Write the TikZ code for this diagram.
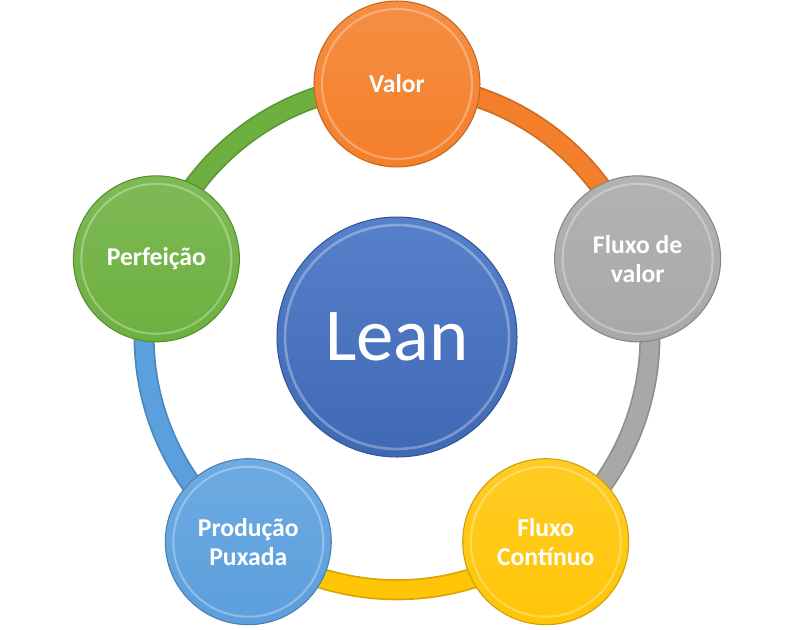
\documentclass[tikz,border=0pt]{standalone}
\usepackage{fontspec}
\setmainfont{Carlito}
\usetikzlibrary{backgrounds}

\definecolor{leanBlue}{HTML}{4472C4}
\definecolor{valorOrange}{HTML}{F47F2A}
\definecolor{fluxoGray}{HTML}{A8A8A8}
\definecolor{continuoYellow}{HTML}{FFC506}
\definecolor{puxadaBlue}{HTML}{5B9FDD}
\definecolor{perfeicaoGreen}{HTML}{6DB03F}

\tikzset{
	pillar/.style={circle, minimum size=3.32cm, inner sep=0pt, align=center, text=white,
		font=\fontsize{14.6}{16.6}\selectfont\bfseries, line width=0.6pt,
		draw=#1!80!black, top color=#1!88!white, bottom color=#1,
		path picture={\draw[white,opacity=0.3,line width=1.2pt] (path picture bounding box.center) circle (1.50cm);}},
	ring/.style={draw=#1!85!black, line width=12pt, postaction={draw=#1, line width=10pt}},
}

\begin{document}
\begin{tikzpicture}[x=0.02cm,y=0.02cm]
		\useasboundingbox (-397,-292) rectangle (396,337);
		
		\node[circle, minimum size=4.8cm, inner sep=0pt, text=white, font=\fontsize{42.5}{50}\selectfont,
			draw=leanBlue!75!black, line width=0.6pt, top color=leanBlue!90!white, bottom color=leanBlue!92!black,
			path picture={\draw[white,opacity=0.3,line width=1.5pt] (path picture bounding box.center) circle (2.24cm);}]
			(lean) at (0,0) {Lean};
		
		\node[pillar=valorOrange] (valor) at (90:253) {Valor};
		\node[pillar=fluxoGray] (fluxo) at (18:253) {Fluxo de\\valor};
		\node[pillar=continuoYellow] (continuo) at (-54:253) {Fluxo\\Contínuo};
		\node[pillar=puxadaBlue] (puxada) at (-126:253) {Produção\\Puxada};
		\node[pillar=perfeicaoGreen] (perfeicao) at (162:253) {Perfeição};
		
		\begin{scope}[on background layer]
			\draw[ring=valorOrange] (valor.center) to[bend left=36,looseness=0.94] (fluxo.center);
			\draw[ring=fluxoGray] (fluxo.center) to[bend left=36,looseness=0.94] (continuo.center);
			\draw[ring=continuoYellow] (continuo.center) to[bend left=36,looseness=0.94] (puxada.center);
			\draw[ring=puxadaBlue] (puxada.center) to[bend left=36,looseness=0.94] (perfeicao.center);
			\draw[ring=perfeicaoGreen] (perfeicao.center) to[bend left=36,looseness=0.94] (valor.center);
		\end{scope}
	\end{tikzpicture}
\end{document}
